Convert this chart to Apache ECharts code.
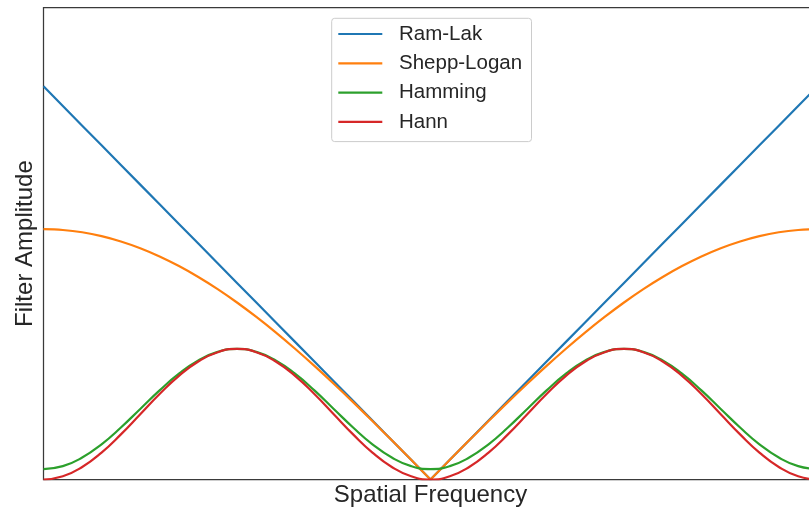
<!DOCTYPE html>
<html>
<head>
<meta charset="utf-8">
<script src="https://cdn.jsdelivr.net/npm/echarts@6/dist/echarts.min.js"></script>
<style>
  html, body { margin: 0; padding: 0; background: #fff; }
  #chart { width: 809px; height: 512px; }
</style>
</head>
<body>
<div id="chart"></div>
<script>
// Normalised spatial frequency samples
const freq = [-0.5, -0.475, -0.45, -0.425, -0.4, -0.375, -0.35, -0.325, -0.3, -0.275,
  -0.25, -0.225, -0.2, -0.175, -0.15, -0.125, -0.1, -0.075, -0.05, -0.025,
  0, 0.025, 0.05, 0.075, 0.1, 0.125, 0.15, 0.175, 0.2, 0.225,
  0.25, 0.275, 0.3, 0.325, 0.35, 0.375, 0.4, 0.425, 0.45, 0.475, 0.5];

// Filter amplitudes at each frequency
const ramLak = [0.5, 0.475, 0.45, 0.425, 0.4, 0.375, 0.35, 0.325, 0.3, 0.275,
  0.25, 0.225, 0.2, 0.175, 0.15, 0.125, 0.1, 0.075, 0.05, 0.025,
  0, 0.025, 0.05, 0.075, 0.1, 0.125, 0.15, 0.175, 0.2, 0.225,
  0.25, 0.275, 0.3, 0.325, 0.35, 0.375, 0.4, 0.425, 0.45, 0.475, 0.5];

const sheppLogan = [0.3183, 0.3173, 0.3144, 0.3095, 0.3027, 0.2941, 0.2836, 0.2714, 0.2575, 0.2421,
  0.2251, 0.2067, 0.1871, 0.1663, 0.1445, 0.1218, 0.0984, 0.0743, 0.0498, 0.0250,
  0, 0.0250, 0.0498, 0.0743, 0.0984, 0.1218, 0.1445, 0.1663, 0.1871, 0.2067,
  0.2251, 0.2421, 0.2575, 0.2714, 0.2836, 0.2941, 0.3027, 0.3095, 0.3144, 0.3173, 0.3183];

const hamming = [0.0133, 0.0170, 0.0279, 0.0448, 0.0661, 0.0897, 0.1133, 0.1345, 0.1514, 0.1623,
  0.1660, 0.1623, 0.1514, 0.1345, 0.1133, 0.0897, 0.0661, 0.0448, 0.0279, 0.0170,
  0.0133, 0.0170, 0.0279, 0.0448, 0.0661, 0.0897, 0.1133, 0.1345, 0.1514, 0.1623,
  0.1660, 0.1623, 0.1514, 0.1345, 0.1133, 0.0897, 0.0661, 0.0448, 0.0279, 0.0170, 0.0133];

const hann = [0, 0.0041, 0.0159, 0.0342, 0.0574, 0.0830, 0.1087, 0.1318, 0.1501, 0.1619,
  0.1660, 0.1619, 0.1501, 0.1318, 0.1087, 0.0830, 0.0574, 0.0342, 0.0159, 0.0041,
  0, 0.0041, 0.0159, 0.0342, 0.0574, 0.0830, 0.1087, 0.1318, 0.1501, 0.1619,
  0.1660, 0.1619, 0.1501, 0.1318, 0.1087, 0.0830, 0.0574, 0.0342, 0.0159, 0.0041, 0];

const seriesNames = ['Ram-Lak', 'Shepp-Logan', 'Hamming', 'Hann'];
const colors = ['#1f77b4', '#ff7f0e', '#2ca02c', '#d62728'];

const font = '"Liberation Sans", Arial, sans-serif';
const textColor = '#262626';
const centre = freq.indexOf(0);

function pairs(values, from, to) {
  const out = [];
  for (let j = from; j <= to; j++) out.push([freq[j], values[j]]);
  return out;
}

function lineSeries(name, color, data, smooth) {
  return {
    name: name,
    type: 'line',
    showSymbol: false,
    symbol: 'none',
    smooth: smooth,
    lineStyle: { width: 2.2, color: color },
    itemStyle: { color: color },
    data: data
  };
}

const last = freq.length - 1;
const series = [
  lineSeries('Ram-Lak', colors[0], pairs(ramLak, 0, last), false),
  // Shepp-Logan has a cusp at zero: each half is smoothed on its own
  lineSeries('Shepp-Logan', colors[1], pairs(sheppLogan, 0, centre), 0.4),
  lineSeries('Shepp-Logan', colors[1], pairs(sheppLogan, centre, last), 0.4),
  lineSeries('Hamming', colors[2], pairs(hamming, 0, last), 0.5),
  lineSeries('Hann', colors[3], pairs(hann, 0, last), 0.5)
];

const chart = echarts.init(document.getElementById('chart'), null, { renderer: 'canvas' });

chart.setOption({
  animation: false,
  backgroundColor: '#ffffff',
  grid: {
    left: 43.5,
    top: 7.7,
    right: -8.5,
    bottom: 32.5,
    outerBoundsMode: 'none',
    containLabel: false,
    show: true,
    borderColor: '#3a3a3a',
    borderWidth: 1.25,
    backgroundColor: '#ffffff'
  },
  legend: {
    data: seriesNames,
    orient: 'vertical',
    left: 331.7,
    top: 18.3,
    icon: 'rect',
    itemWidth: 44,
    itemHeight: 2.2,
    itemGap: 7.3,
    padding: [4.7, 9.4, 8.7, 6.6],
    backgroundColor: 'rgba(255,255,255,0.85)',
    borderColor: '#cccccc',
    borderWidth: 1,
    borderRadius: 3,
    textStyle: {
      fontFamily: font,
      fontSize: 20.5,
      color: textColor,
      lineHeight: 22,
      padding: [0, 0, 0, 11.7]
    }
  },
  xAxis: {
    type: 'value',
    min: -0.5,
    max: 0.5,
    name: 'Spatial Frequency',
    nameLocation: 'middle',
    nameGap: 3.5,
    nameTextStyle: { fontFamily: font, fontSize: 24, color: textColor },
    axisLine: { show: false },
    axisTick: { show: false },
    axisLabel: { show: false },
    splitLine: { show: false }
  },
  yAxis: {
    type: 'value',
    min: 0,
    max: 0.6,
    name: 'Filter Amplitude',
    nameLocation: 'middle',
    nameRotate: 90,
    nameGap: 6.5,
    nameTextStyle: { fontFamily: font, fontSize: 24, color: textColor },
    axisLine: { show: false },
    axisTick: { show: false },
    axisLabel: { show: false },
    splitLine: { show: false }
  },
  series: series
});
</script>
</body>
</html>
